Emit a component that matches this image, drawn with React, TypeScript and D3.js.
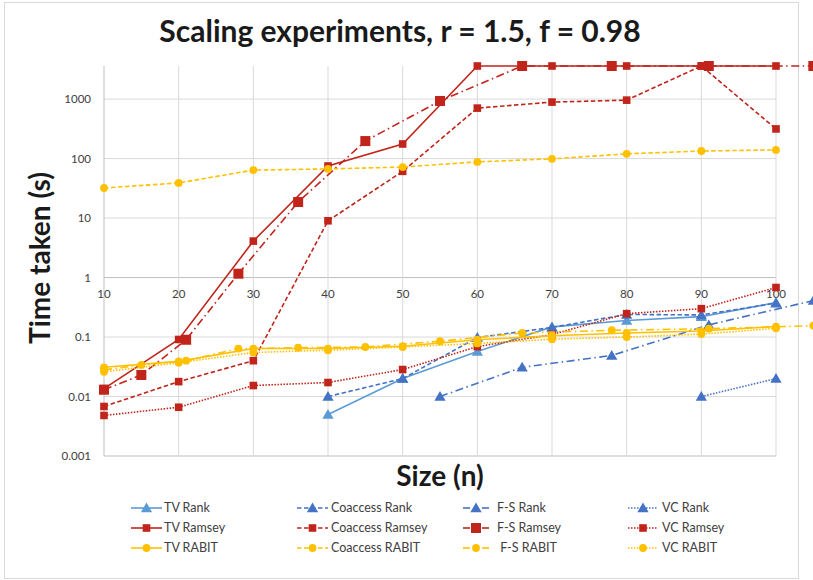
import React from 'react';
import * as d3 from 'd3';

const sizes = [10, 20, 30, 40, 50, 60, 70, 80, 90, 100];
const fsSizes = [10, 15, 21, 28, 36, 45, 55, 66, 78, 91, 105];

const yTicks = [0.001, 0.01, 0.1, 1, 10, 100, 1000];
const yTickLabels = ['0.001', '0.01', '0.1', '1', '10', '100', '1000'];

// seconds, null = no run
const tvRank = [null, null, null, 0.005, 0.02, 0.057, 0.148, 0.19, 0.22, 0.38];
const coaccessRank = [null, null, null, 0.01, 0.02, 0.098, 0.145, 0.24, 0.235, 0.37];
const fsRank = [null, null, null, null, null, null, 0.01, 0.031, 0.049, 0.16, 0.41];
const vcRank = [null, null, null, null, null, null, null, null, 0.01, 0.02];

const tvRamsey = [0.0136, 0.091, 4.1, 75, 176, 3600, 3600, 3600, 3600, 3600];
const coaccessRamsey = [0.0068, 0.0178, 0.04, 9, 61, 705, 890, 960, 3600, 315];
const fsRamsey = [0.013, 0.023, 0.09, 1.16, 18.6, 197, 930, 3600, 3600, 3600, 3600];
const vcRamsey = [0.0048, 0.0066, 0.0153, 0.0172, 0.0284, 0.069, 0.11, 0.247, 0.3, 0.68];

const tvRabit = [0.031, 0.039, 0.064, 0.064, 0.07, 0.09, 0.105, 0.117, 0.126, 0.15];
const coaccessRabit = [32, 39, 64, 67, 72, 88, 99, 120, 134, 140];
const fsRabit = [0.028, 0.034, 0.04, 0.064, 0.066, 0.068, 0.085, 0.117, 0.13, 0.138, 0.155];
const vcRabit = [0.026, 0.037, 0.055, 0.06, 0.068, 0.078, 0.092, 0.1, 0.112, 0.14];

const LIGHT_BLUE = '#5b9bd5';
const BLUE = '#4472c4';
const RED = '#c0241b';
const GOLD = '#ffc000';

const DASH = { solid: null, dash: '4.5,2.5', dashDot: '8,3.5,1.5,3.5', dot: '1.5,1.5' };

type Series = {
  name: string; xs: number[]; ys: (number | null)[];
  color: string; style: keyof typeof DASH; marker: 'tri' | 'sq' | 'circ'; big?: boolean;
};

// Excel series order (legend fills row by row)
const series: Series[] = [
  { name: 'TV Rank', xs: sizes, ys: tvRank, color: LIGHT_BLUE, style: 'solid', marker: 'tri' },
  { name: 'Coaccess Rank', xs: sizes, ys: coaccessRank, color: BLUE, style: 'dash', marker: 'tri' },
  { name: 'F-S Rank', xs: fsSizes, ys: fsRank, color: BLUE, style: 'dashDot', marker: 'tri' },
  { name: 'VC Rank', xs: sizes, ys: vcRank, color: BLUE, style: 'dot', marker: 'tri' },
  { name: 'TV Ramsey', xs: sizes, ys: tvRamsey, color: RED, style: 'solid', marker: 'sq' },
  { name: 'Coaccess Ramsey', xs: sizes, ys: coaccessRamsey, color: RED, style: 'dash', marker: 'sq' },
  { name: 'F-S Ramsey', xs: fsSizes, ys: fsRamsey, color: RED, style: 'dashDot', marker: 'sq', big: true },
  { name: 'VC Ramsey', xs: sizes, ys: vcRamsey, color: RED, style: 'dot', marker: 'sq' },
  { name: 'TV RABIT', xs: sizes, ys: tvRabit, color: GOLD, style: 'solid', marker: 'circ' },
  { name: 'Coaccess RABIT', xs: sizes, ys: coaccessRabit, color: GOLD, style: 'dash', marker: 'circ' },
  { name: ' F-S RABIT', xs: fsSizes, ys: fsRabit, color: GOLD, style: 'dashDot', marker: 'circ' },
  { name: 'VC RABIT', xs: sizes, ys: vcRabit, color: GOLD, style: 'dot', marker: 'circ' },
];

const W = 813;
const H = 580;
const FONT = 'Lato, "Open Sans", sans-serif';

const x = d3.scaleLinear().domain([10, 100]).range([104, 776]);
const y = d3.scaleLog().domain([0.001, 3600]).range([456, 66]);

function Marker({ kind, cx, cy, color, big }: { kind: string; cx: number; cy: number; color: string; big?: boolean }) {
  if (kind === 'tri') {
    const s = d3.symbol(d3.symbolTriangle, 55)();
    return <path d={s || ''} transform={`translate(${cx},${cy + 1})`} fill={color} />;
  }
  if (kind === 'sq') {
    const h = big ? 5 : 3.8;
    return <rect x={cx - h} y={cy - h} width={h * 2} height={h * 2} fill={color} />;
  }
  return <circle cx={cx} cy={cy} r={big ? 4.2 : 3.9} fill={color} />;
}

const legendCols = [
  { x0: 131, x1: 162, tx: 164 },
  { x0: 297, x1: 328, tx: 331 },
  { x0: 463, x1: 489, tx: 497 },
  { x0: 628, x1: 658, tx: 662 },
];
const legendRows = [508, 528, 548];

export default function App() {
  const line = d3.line<[number, number | null]>()
    .defined(d => d[1] != null)
    .x(d => x(d[0]))
    .y(d => y(d[1] as number));

  return (
    <div style={{ position: 'absolute', left: 0, top: 0 }}>
      <svg width={W} height={H} style={{ display: 'block', background: '#fff' }}>
        <rect x={4.5} y={2.5} width={794} height={576} fill="#fff" stroke="#d9d9d9" />

        {/* grid */}
        {yTicks.map(t => (
          <line key={'h' + t} x1={x(10)} x2={x(100)} y1={y(t)} y2={y(t)}
            stroke={t === 1 || t === 0.001 ? '#bfbfbf' : '#d9d9d9'} strokeWidth={1} />
        ))}
        {sizes.map(s => (
          <line key={'v' + s} x1={x(s)} x2={x(s)} y1={y(3600)} y2={y(0.001)}
            stroke={s === 10 ? '#bfbfbf' : '#d9d9d9'} strokeWidth={1} />
        ))}

        {/* tick labels */}
        {yTicks.map((t, i) => (
          <text key={'yl' + t} x={91} y={y(t)} dy="0.35em" textAnchor="end"
            fontFamily={FONT} fontSize={11.5} fill="#404040">{yTickLabels[i]}</text>
        ))}
        {sizes.map(s => (
          <text key={'xl' + s} x={x(s)} y={y(1) + 20} textAnchor="middle"
            fontFamily={FONT} fontSize={11.5} fill="#404040">{s}</text>
        ))}

        {/* series */}
        {series.map(s => {
          const pts = s.xs.map((v, i) => [v, s.ys[i]] as [number, number | null]);
          const dash = DASH[s.style];
          return (
            <g key={s.name}>
              <path d={line(pts) || ''} fill="none" stroke={s.color} strokeWidth={1.6}
                strokeDasharray={dash || undefined} />
              {pts.filter(p => p[1] != null).map(p => (
                <Marker key={p[0]} kind={s.marker} cx={x(p[0])} cy={y(p[1] as number)} color={s.color} big={s.big} />
              ))}
            </g>
          );
        })}

        {/* titles */}
        <text x={400} y={42} textAnchor="middle" fontFamily={FONT} fontWeight={700} fontSize={30} fill="#1a1a1a">
          Scaling experiments, r = 1.5, f = 0.98
        </text>
        <text transform={`translate(50,258) rotate(-90)`} textAnchor="middle" fontFamily={FONT}
          fontWeight={700} fontSize={28} fill="#1a1a1a">Time taken (s)</text>
        <text x={440} y={486} textAnchor="middle" fontFamily={FONT} fontWeight={700} fontSize={28} fill="#1a1a1a">
          Size (n)
        </text>

        {/* legend */}
        {series.map((s, i) => {
          const col = legendCols[i % 4];
          const ry = legendRows[Math.floor(i / 4)];
          const mid = (col.x0 + col.x1) / 2;
          const dash = DASH[s.style];
          return (
            <g key={'lg' + s.name}>
              {s.style === 'dashDot' ? (
                <>
                  <line x1={col.x0} x2={col.x0 + 7} y1={ry} y2={ry} stroke={s.color} strokeWidth={1.6} />
                  <line x1={col.x1 - 7} x2={col.x1} y1={ry} y2={ry} stroke={s.color} strokeWidth={1.6} />
                </>
              ) : (
                <line x1={col.x0} x2={col.x1} y1={ry} y2={ry} stroke={s.color} strokeWidth={1.6}
                  strokeDasharray={dash || undefined} />
              )}
              <Marker kind={s.marker} cx={mid} cy={ry} color={s.color} big={s.big} />
              <text x={col.tx} y={ry} dy="0.35em" fontFamily={FONT} fontSize={12.5} fill="#404040"
                style={{ whiteSpace: 'pre' }}>{s.name}</text>
            </g>
          );
        })}
      </svg>
    </div>
  );
}
